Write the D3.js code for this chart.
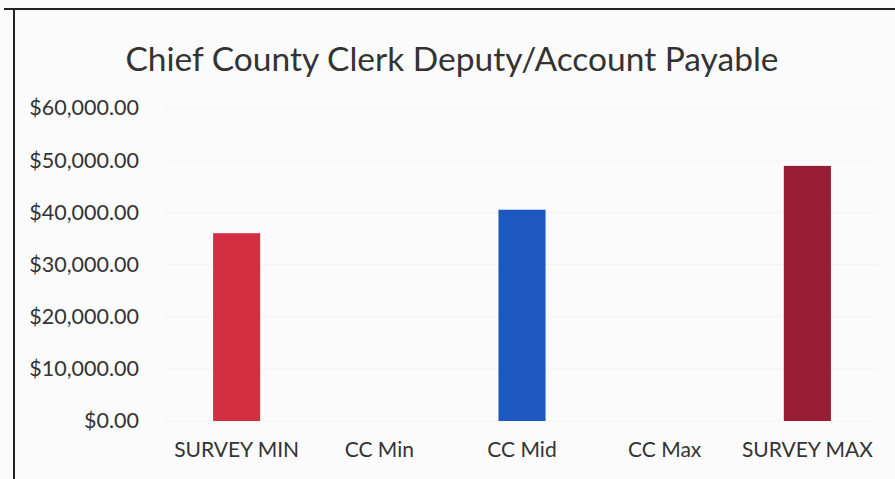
<!DOCTYPE html>
<html>
<head>
<meta charset="utf-8">
<script src="https://cdn.jsdelivr.net/npm/d3@7"></script>
<style>
    body { margin: 0; background: #fbfbfb; }
    text { font-family: Lato, "Open Sans", sans-serif; fill: #333; }
</style>
</head>
<body>
<div id="vis"></div>
<script>
'use strict';

//data
var title = 'Chief County Clerk Deputy/Account Payable';
var categories = ['SURVEY MIN', 'CC Min', 'CC Mid', 'CC Max', 'SURVEY MAX'];
var values = [36000, 0, 40500, 0, 48900];
var colors = ['#d22f43', '#d22f43', '#1d58bf', '#1d58bf', '#981c33'];
var yTicks = [0, 10000, 20000, 30000, 40000, 50000, 60000];

//layout
var width = 895, height = 479;
var margin = { top: 108, right: 17, bottom: 58, left: 166 };
var dim = { w: width - margin.left - margin.right, h: height - margin.top - margin.bottom };

var svg = d3.select('#vis')
    .append('svg')
    .attr('width', width)
    .attr('height', height);

//frame of the chart area
svg.append('line')
    .attr('x1', 4).attr('x2', width)
    .attr('y1', 9).attr('y2', 9)
    .style('stroke', '#222').style('stroke-width', 2);
svg.append('line')
    .attr('x1', 14).attr('x2', 14)
    .attr('y1', 9).attr('y2', height)
    .style('stroke', '#222').style('stroke-width', 2);

svg.append('text')
    .attr('x', 452)
    .attr('y', 71)
    .attr('text-anchor', 'middle')
    .style('font-size', '33.5px')
    .text(title);

var g = svg.append('g')
    .attr('transform', 'translate(' + margin.left + ', ' + margin.top + ')');

var x = d3.scaleBand().domain(categories).range([0, dim.w]).paddingInner(0.67).paddingOuter(0.33);
var y = d3.scaleLinear().domain([0, 60000]).range([dim.h, 0]);

//faint gridlines
g.selectAll('.grid')
    .data(yTicks)
    .enter()
    .append('line')
    .attr('x1', 0).attr('x2', dim.w)
    .attr('y1', function (d) { return y(d); })
    .attr('y2', function (d) { return y(d); })
    .style('stroke', '#f3f3f3');

//y axis
var yAxis = d3.axisLeft(y)
    .tickValues(yTicks)
    .tickSize(0)
    .tickPadding(27)
    .tickFormat(function (d) { return '$' + d3.format(',.2f')(d); });
g.append('g')
    .call(yAxis)
    .call(function (a) { a.select('.domain').remove(); })
    .selectAll('text')
    .style('font-size', '21.5px')
    .style('font-family', 'Lato, "Open Sans", sans-serif')
    .attr('fill', '#2b2b2b');

//x axis
var xAxis = d3.axisBottom(x).tickSize(0).tickPadding(21);
g.append('g')
    .attr('transform', 'translate(0, ' + dim.h + ')')
    .call(xAxis)
    .call(function (a) { a.select('.domain').remove(); })
    .selectAll('text')
    .style('font-size', '21px')
    .style('font-family', 'Lato, "Open Sans", sans-serif')
    .attr('fill', '#2b2b2b');

//bars
g.selectAll('.bar')
    .data(values)
    .enter()
    .append('rect')
    .attr('class', 'bar')
    .attr('x', function (d, i) { return x(categories[i]); })
    .attr('width', x.bandwidth())
    .attr('y', function (d) { return y(d); })
    .attr('height', function (d) { return dim.h - y(d); })
    .style('fill', function (d, i) { return colors[i]; });
</script>
</body>
</html>
